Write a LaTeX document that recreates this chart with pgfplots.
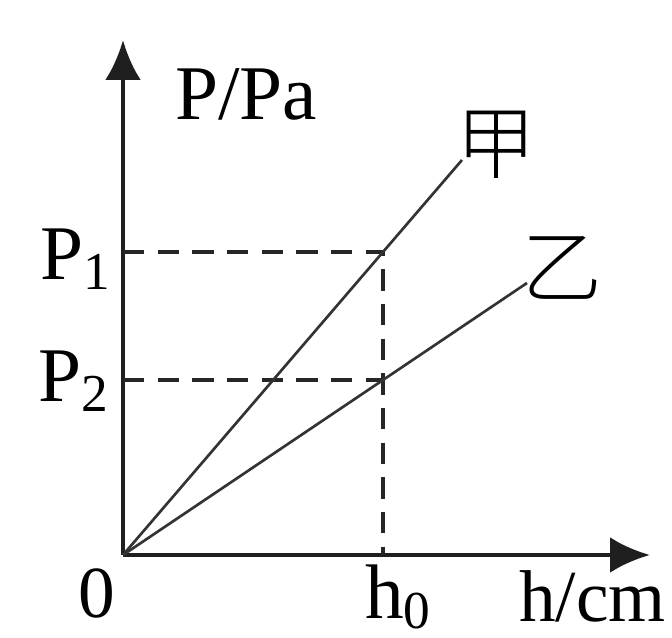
\documentclass[border=0pt]{standalone}
\usepackage{pgfplots}
\pgfplotsset{compat=1.18}
\usepackage{fontspec}
\setmainfont{Liberation Serif}
\newfontfamily\cjk{Noto Sans CJK SC}[UprightFont={* Light}]
\usetikzlibrary{arrows.meta}
\tikzset{lbl/.style={font=\fontsize{58}{64}\selectfont, inner sep=0pt}}
% subscript: smaller digit, slightly lowered
\newcommand\sub[1]{\raisebox{-0.12em}{\fontsize{40}{44}\selectfont #1}}
\begin{document}
\begin{tikzpicture}
\begin{axis}[
  x=0.75pt, y=0.75pt,
  xmin=0, xmax=527, ymin=0, ymax=515,
  enlargelimits=false,
  axis lines=left,
  axis line style={line width=3.6pt, color=black!88, -{Latex[length=30pt,width=27pt]}},
  xtick=\empty, ytick=\empty,
  clip=false,
]
% guide lines to h0, P1 and P2
\addplot[line width=2.6pt, black!85, dash pattern=on 16pt off 10pt]
  coordinates {(0,303) (260,303) (260,0)};
\addplot[line width=2.6pt, black!85, dash pattern=on 16pt off 10pt]
  coordinates {(0,175) (260,175)};
% pressure against depth for the two liquids
\addplot[line width=2pt, black!80] coordinates {(0,0) (260,303) (339,395)};
\addplot[line width=2pt, black!80] coordinates {(0,0) (260,175) (404,272)};

\node[lbl, anchor=base west] at (axis cs:52,435) {P/Pa};
\node[lbl, anchor=base east] at (axis cs:-13,275) {P\sub{1}};
\node[lbl, anchor=base east] at (axis cs:-15,153) {P\sub{2}};
\node[lbl, font=\fontsize{55}{60}\selectfont] at (axis cs:-26,-38) {0};
\node[lbl, anchor=base west] at (axis cs:242,-64) {h\sub{0}};
\node[lbl, anchor=base west, font=\fontsize{55}{60}\selectfont] at (axis cs:396,-67) {h/cm};
\node[lbl, font=\fontsize{60}{66}\selectfont\cjk] at (axis cs:374,410) {甲};
\node[lbl, font=\fontsize{60}{66}\selectfont\cjk] at (axis cs:439,287) {乙};

\coordinate (bl) at (axis cs:-123,-83);
\coordinate (tr) at (axis cs:549,555);
\end{axis}
\pgfresetboundingbox
\useasboundingbox (bl) rectangle (tr);
\end{tikzpicture}
\end{document}
